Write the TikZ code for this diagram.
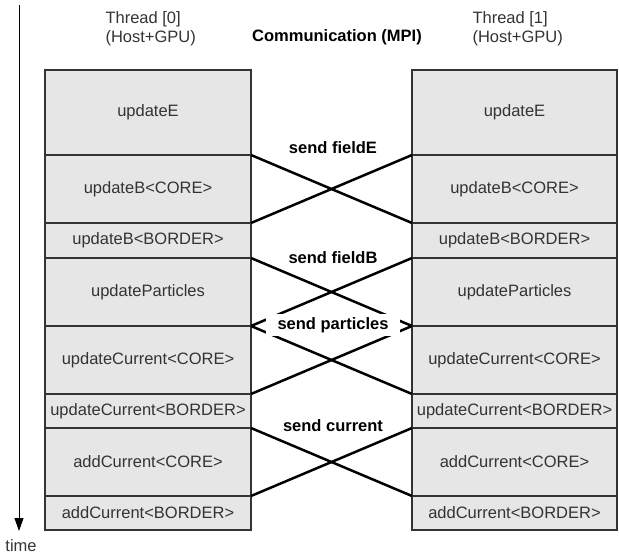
\documentclass[tikz,border=0pt]{standalone}
\usepackage{fontspec}
\setmainfont{Liberation Sans}
\usetikzlibrary{arrows.meta}
\definecolor{boxfill}{RGB}{230,230,230}
\definecolor{boxline}{RGB}{51,51,51}
\definecolor{txtcol}{RGB}{51,51,51}

\begin{document}
\begin{tikzpicture}[x=1pt,y=-1pt,
  every node/.style={font=\fontsize{16.5}{19}\selectfont,text=txtcol},
  kernel/.style={draw=boxline,fill=boxfill,line width=1.5pt,anchor=north west,inner sep=0pt,outer sep=0pt},
  sendlbl/.style={font=\fontsize{16.5}{19}\selectfont\bfseries,text=black},
  xfer/.style={line width=2.5pt,black}]
\useasboundingbox (0,0) rectangle (619,557);
% time axis
\coordinate (t0) at (19,5);
\coordinate (t1) at (19,531);
\draw[-{Triangle[width=9pt,length=13pt]},line width=1pt] (t0) -- (t1);
\node (tlbl) at (21,546) {time};
% headers
\node[align=left,anchor=west] (th0) at (102,29) {Thread [0]\\(Host+GPU)};
\node[align=left,anchor=west] (th1) at (469,29) {Thread [1]\\(Host+GPU)};
\node[sendlbl] (mpi) at (337,37.5) {Communication (MPI)};
% kernels, both threads
\foreach \n/\y/\h/\lbl in {1/70/85/updateE, 2/155/68/updateB<CORE>, 3/223/35/updateB<BORDER>,
    4/258/68/updateParticles, 5/326/68/updateCurrent<CORE>, 6/394/34/updateCurrent<BORDER>,
    7/428/68/addCurrent<CORE>, 8/496/34/addCurrent<BORDER>}{
  \node[kernel,minimum width=206pt,minimum height=\h*1pt] (L\n) at (45,\y) {\lbl};
  \node[kernel,minimum width=205pt,minimum height=\h*1pt] (R\n) at (412,\y) {\lbl};
}
% transfers
\draw[xfer] (L1.south east) -- (R2.south west);
\draw[xfer] (L2.south east) -- (R1.south west);
\draw[xfer] (L3.south east) -- (R4.south west);
\draw[xfer] (L4.south east) -- (R3.south west);
\draw[xfer] (L4.south east) -- (R5.south west);
\draw[xfer] (L5.south east) -- (R4.south west);
\draw[xfer] (L6.south east) -- (R7.south west);
\draw[xfer] (L7.south east) -- (R6.south west);
\node[sendlbl] (sE) at (333,148) {send fieldE};
\node[sendlbl] (sB) at (333,258) {send fieldB};
\node[sendlbl,fill=white,inner xsep=12pt,inner ysep=3pt] (sP) at (333,325) {send particles};
\node[sendlbl] (sJ) at (333,426) {send current};
\end{tikzpicture}
\end{document}
